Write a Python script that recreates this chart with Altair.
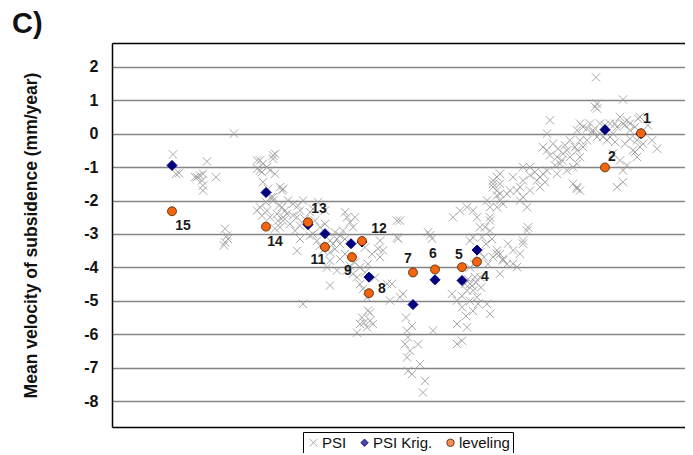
import altair as alt
import pandas as pd

FONT = "Liberation Sans"

# PSI measurements: (distance along profile, mean velocity mm/year)
psi_points = [
    (173,-0.62),(176,-1.2),(179,-1.18),(207,-0.83),(195,-1.3),(200,-1.25),(203,-1.2),(202,-1.4),
    (203,-1.55),(203,-1.7),(216,-1.3),(197,-1.3),(225,-2.84),(227,-3.05),(225,-3.25),(228,-3.15),
    (224,-3.34),(234,0.0),
    (260,-0.8),(263,-0.9),(275,-0.6),(273,-0.75),(257,-1.05),(262,-1.15),(270,-1.1),(263,-1.45),
    (275,-1.2),(282,-1.7),(260,-2.2),(267,-2.3),(273,-2.0),(277,-2.4),(278,-2.6),(283,-2.5),
    (275,-2.84),(268,-1.65),(271,-1.9),(266,-2.05),(279,-2.15),(285,-2.3),(270,-2.5),(262,-2.45),
    (257,-0.8),(273,-0.65),(260,-1.1),(267,-1.0),(280,-1.6),(273,-1.9),(293,-2.1),(257,-2.3),
    (297,-2.5),(280,-2.8),
    (283,-1.65),(282,-2.2),(287,-2.4),(283,-2.6),(293,-2.45),(300,-2.3),(303,-2.0),(297,-3.5),
    (303,-5.09),(313,-3.0),(317,-3.2),(330,-3.2),(333,-3.3),(337,-3.15),(340,-3.3),(330,-3.8),
    (327,-4.0),(330,-4.54),(347,-2.5),(350,-2.65),(353,-2.8),(343,-2.9),(357,-4.3),(360,-4.5),
    (363,-4.64),(367,-4.9),(368,-5.29),(360,-5.69),(367,-5.79),(370,-5.59),(373,-5.69),(380,-3.2),
    (378,-3.44),(380,-3.69),(383,-3.49),(387,-4.49),(390,-4.99),(397,-2.6),(397,-3.1),(323,-3.49),
    (337,-4.09),(347,-4.09),(353,-4.19),
    (290,-2.7),(295,-2.9),(300,-2.75),(305,-2.55),(310,-2.35),(315,-2.6),(320,-2.8),(325,-2.7),
    (335,-2.95),(340,-3.05),(345,-3.15),(320,-3.35),(330,-3.55),(335,-3.45),(345,-3.6),(355,-3.85),
    (360,-4.0),(365,-4.15),(350,-3.95),(340,-3.75),(313,-2.25),(298,-2.15),(288,-2.0),(318,-2.05),
    (325,-2.3),(345,-2.35),(355,-2.5),(300,-3.15),(310,-3.05),(365,-3.4),(372,-3.6),(368,-3.9),
    (375,-4.3),(362,-5.5),(357,-5.95),(370,-5.35),(364,-5.65),
    (400,-2.6),(398,-3.14),(430,-3.04),(432,-3.14),(428,-2.95),(392,-4.49),(403,-4.79),(400,-4.89),
    (407,-5.89),(408,-6.09),(405,-6.29),(410,-6.49),(407,-6.69),(408,-7.09),(412,-7.19),(420,-6.89),
    (425,-7.39),(423,-7.74),(433,-5.89),(457,-6.29),(462,-6.19),(452,-4.79),(457,-4.99),(462,-5.19),
    (457,-5.69),(467,-5.79),(467,-4.69),(470,-4.49),(473,-4.69),(475,-4.29),(480,-4.29),(477,-4.89),
    (478,-5.09),(490,-5.39),(487,-5.09),(470,-3.2),(473,-3.1),(467,-2.2),(473,-2.3),(477,-2.5),
    (480,-2.8),(490,-2.9),(490,-2.6),(497,-1.3),(500,-1.5),(493,-1.6),(497,-1.85),(503,-2.1),
    (493,-3.69),(497,-3.49),(503,-3.79),(500,-4.19),(508,-3.29),(453,-2.5),(460,-2.3),
    (465,-4.5),(468,-4.35),(472,-4.55),(476,-4.45),(481,-4.6),(470,-4.0),(474,-3.9),(484,-3.7),
    (488,-3.9),(480,-3.55),(486,-3.3),(492,-3.15),(462,-4.85),(470,-5.0),(466,-5.45),(473,-5.3),
    (406,-5.5),(412,-5.75),(418,-6.3),
    (497,-3.59),(503,-3.75),(517,-3.99),(513,-3.49),(527,-2.9),(523,-3.29),(493,-1.5),(507,-1.8),
    (520,-1.6),(520,-2.0),(500,-1.2),(530,-1.0),
    (493,-1.4),(497,-1.7),(500,-2.0),(497,-2.2),(490,-2.5),(485,-2.8),(482,-3.1),(513,-1.3),
    (510,-1.7),(517,-1.7),(523,-1.0),(523,-1.4),(523,-1.9),(527,-2.2),(528,-2.8),(523,-3.2),
    (520,-3.59),(513,-3.89),(500,-3.6),(507,-3.9),(530,-1.7),(537,-1.4),(540,-1.3),(543,-1.2),
    (547,-1.1),(540,-1.6),(550,0.4),(547,0.0),(543,-0.4),(547,-0.5),(550,-0.65),(557,-0.7),
    (560,-0.9),(563,-0.6),(567,-0.5),(570,-0.7),(577,-0.9),(573,-1.5),(577,-1.65),(580,-1.7),
    (567,-1.1),(557,-1.2),(577,0.1),(580,0.3),(583,0.2),(590,0.3),(593,0.1),(587,-0.2),
    (583,-0.4),(580,-0.7),(595,0.8),(597,-0.1),
    (553,-0.3),(558,-0.45),(565,-0.35),(570,-0.2),(575,-0.4),(562,-0.8),(555,-0.95),(535,-1.15),
    (530,-1.25),(545,-1.45),
    (596,1.68),(597,0.9),(597,0.75),(623,1.02),(620,0.5),(623,0.3),(627,0.4),(617,0.2),
    (630,0.1),(637,-0.2),(640,-0.4),(635,-0.55),(643,-0.3),(640,0.5),(587,0.15),(593,0.05),
    (600,0.0),(610,-0.1),(613,0.0),(607,-0.2),(580,-0.2),(577,-0.5),(573,-1.0),(577,-1.6),
    (617,-1.6),(623,-1.45),(627,-0.95),(620,-0.8),(613,-0.6),(487,-2.0),(490,-2.2),(500,-1.8),
    (638,0.45),(633,-0.5),(637,-0.7),(623,-1.1),(648,0.25),(652,-0.2),(657,-0.45),(600,0.3),
    (605,0.25),(610,0.3),(615,0.3),(625,0.25),(630,0.3),(635,0.2),(603,-0.1),(615,-0.25),
    (625,-0.3),(630,-0.15),
]

krig_x = [172, 266, 308, 325, 351, 362, 369, 413, 435, 462, 477, 605, 641]
krig_y = [-0.95, -1.76, -2.72, -2.99, -3.29, -3.24, -4.29, -5.11, -4.37, -4.39, -3.48, 0.12, 0.0]

lev_labels = ["15", "14", "13", "11", "9", "12", "8", "7", "6", "5", "4", "2", "1"]
lev_x = [172, 266, 308, 325, 352, 362, 369, 413, 435, 462, 477, 605, 641]
lev_y = [-2.32, -2.78, -2.65, -3.39, -3.69, -3.21, -4.77, -4.15, -4.06, -3.99, -3.83, -1.01, 0.01]

y_ticks = [-8, -7, -6, -5, -4, -3, -2, -1, 0, 1, 2]
series_names = ["PSI", "PSI Krig.", "leveling"]

psi_df = pd.DataFrame({"d": [p[0] for p in psi_points], "v": [p[1] for p in psi_points], "series": "PSI"})
krig_df = pd.DataFrame({"d": krig_x, "v": krig_y, "series": "PSI Krig."})
lev_df = pd.DataFrame({"d": lev_x, "v": lev_y, "label": lev_labels, "series": "leveling"})

# label offsets (pixels) - styling only
label_offsets = {
    "15": (11, 15), "14": (9, 15), "13": (11, -13), "11": (-7, 13), "9": (-4, 14),
    "12": (17, -12), "8": (13, -4), "7": (-5, -13), "6": (-2, -15), "5": (-3, -12),
    "4": (8, 15), "2": (7, -10), "1": (6, -14),
}

xs = alt.Scale(domain=[112, 685], nice=False, zero=False)
ys = alt.Scale(domain=[-8.77, 2.71], nice=False, zero=False)

fill_scale = alt.Scale(domain=series_names, range=["#9a9a9a", "#000080", "#f5650f"])
stroke_scale = alt.Scale(domain=series_names, range=["#9a9a9a", "#000080", "#4a2000"])
shape_scale = alt.Scale(domain=series_names, range=["M-1,-1L1,1M-1,1L1,-1", "diamond", "circle"])

leg = alt.Legend(
    title=None, orient="none", legendX=191, legendY=389, direction="horizontal",
    strokeColor="black", fillColor="white", padding=3, labelFont=FONT, labelFontSize=15,
    labelColor="#111", symbolSize=55, symbolStrokeWidth=1, columnPadding=10, labelOffset=1,
)

def style_enc():
    return dict(
        fill=alt.Fill("series:N", scale=fill_scale, legend=leg, title=None),
        stroke=alt.Stroke("series:N", scale=stroke_scale, legend=leg, title=None),
        shape=alt.Shape("series:N", scale=shape_scale, legend=leg, title=None),
    )

y_axis = alt.Axis(
    values=y_ticks, grid=True, gridColor="#858585", gridWidth=1.5, ticks=False,
    domain=True, domainColor="black", domainWidth=1.5, labelPadding=14,
    labelFont=FONT, labelFontSize=16, labelFontWeight="bold", labelColor="#111",
    labelExpr="datum.value < 0 ? '-' + abs(datum.value) : '' + datum.value",
    title="Mean velocity  of subsidence (mm/year)", titleFont=FONT, titleFontSize=17.5,
    titleFontWeight="bold", titleColor="#111", titlePadding=43,
)

def yenc():
    return alt.Y("v:Q", scale=ys, axis=y_axis)

psi = alt.Chart(psi_df).mark_point(filled=True, size=70, strokeWidth=1, opacity=0.85).encode(
    x=alt.X("d:Q", scale=xs, axis=alt.Axis(orient="bottom", labels=False, ticks=False, grid=False,
                                           domainColor="black", domainWidth=1.5, title=None)),
    y=yenc(),
    **style_enc(),
)

krig = alt.Chart(krig_df).mark_point(filled=True, size=100, strokeWidth=1, opacity=1).encode(
    x=alt.X("d:Q", scale=xs, axis=alt.Axis(orient="top", labels=False, ticks=False, grid=False,
                                           domainColor="black", domainWidth=1.5, title=None)),
    y=yenc(),
    **style_enc(),
)

lev = alt.Chart(lev_df).mark_point(filled=True, size=80, strokeWidth=0.8, opacity=1).encode(
    x=alt.X("d:Q", scale=xs, axis=None),
    y=yenc(),
    **style_enc(),
)

text_layers = []
for lab in lev_labels:
    dx, dy = label_offsets[lab]
    text_layers.append(
        alt.Chart(lev_df).transform_filter(alt.datum.label == lab).mark_text(
            dx=dx, dy=dy, font=FONT, fontSize=14, fontWeight="bold", color="#1a1a1a"
        ).encode(
            x=alt.X("d:Q", scale=xs, axis=None),
            y=yenc(),
            text="label:N",
        )
    )

chart = alt.layer(psi, krig, lev, *text_layers).resolve_axis(x="independent").properties(
    width=573, height=384,
    autosize=alt.AutoSizeParams(type="none"),
    padding={"left": 104, "top": 35, "right": 0, "bottom": 26},
    title=alt.TitleParams("C)", anchor="start", frame="group", dx=-100, offset=4,
                          font=FONT, fontSize=29, fontWeight="bold", color="#111"),
).configure_view(strokeWidth=0).configure(background="white")

chart.save("out.html", embed_options={"renderer": "svg", "actions": False})
